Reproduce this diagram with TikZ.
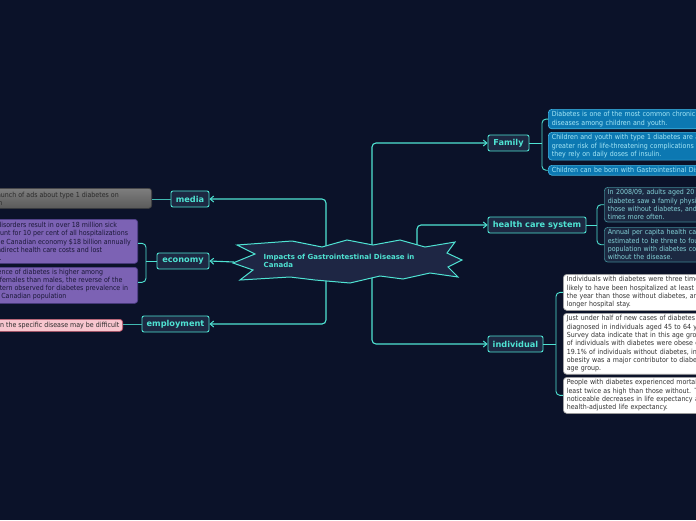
\documentclass[tikz,border=0pt]{standalone}
\usepackage{fontspec}
\setmainfont{DejaVu Sans}
\newfontfamily\condfont{DejaVu Sans Condensed}
\usetikzlibrary{arrows.meta}
\definecolor{bg}{HTML}{0B1229}
\definecolor{cy}{HTML}{4FE3D3}
\definecolor{topicfill}{HTML}{1D2842}
\definecolor{starfill}{HTML}{1E2644}
\definecolor{famfill}{HTML}{0C78B2}
\definecolor{famdraw}{HTML}{3FB2E0}
\definecolor{famtext}{HTML}{A6E8F7}
\definecolor{hcfill}{HTML}{1C2942}
\definecolor{hcdraw}{HTML}{3E8590}
\definecolor{hctext}{HTML}{84D2D8}
\definecolor{inddraw}{HTML}{9A9A9A}
\definecolor{indtext}{HTML}{333333}
\definecolor{ecofill}{HTML}{7C62B4}
\definecolor{ecodraw}{HTML}{52408C}
\definecolor{ecotext}{HTML}{1B1838}
\definecolor{pinkfill}{HTML}{F8C6CF}
\definecolor{pinkdraw}{HTML}{C4566A}
\definecolor{darktext}{HTML}{2A2A2A}
\definecolor{graytop}{HTML}{7E7E7E}
\definecolor{graybot}{HTML}{5A5A5A}
\tikzset{
 topic/.style={draw=cy, fill=topicfill, rounded corners=2pt, line width=0.9pt, text=cy,
   font=\fontsize{8.2}{9}\selectfont\bfseries, inner sep=0pt, minimum height=16pt},
 conn/.style={draw=cy, line width=1.1pt, rounded corners=4pt},
 subconn/.style={draw=cy, line width=0.9pt, rounded corners=4pt},
 arrowto/.style={-{Straight Barb[length=3.5pt,width=6pt,line width=1pt]}},
 txtbox/.style={anchor=north west, align=left, inner xsep=3.5pt, inner ysep=2.2pt,
   rounded corners=3.5pt, line width=0.7pt, font=\condfont\fontsize{7}{8.3}\selectfont, text width=250pt},
 fambox/.style={txtbox, fill=famfill, draw=famdraw, text=famtext},
 hcbox/.style={txtbox, fill=hcfill, draw=hcdraw, text=hctext},
 indbox/.style={txtbox, fill=white, draw=inddraw, text=indtext},
 leftbox/.style={anchor=north east, inner sep=0pt, rounded corners=3pt, line width=0.7pt, minimum width=220pt},
 ecobox/.style={leftbox, fill=ecofill, draw=ecodraw},
 graybox/.style={leftbox, top color=graytop, bottom color=graybot, draw=graybot!70!black},
 pinkbox/.style={leftbox, fill=pinkfill, draw=pinkdraw},
 lline/.style={anchor=base east, inner sep=0pt, font=\condfont\fontsize{7}{8.3}\selectfont},
}
\begin{document}
\begin{tikzpicture}[x=1pt,y=-1pt]
\fill[bg] (0,0) rectangle (696,520);
\useasboundingbox (0,0) rectangle (696,520);
\clip (0,0) rectangle (696,520);

% topic nodes
\node[topic, minimum width=41pt] (family) at (508.5,143) {Family};
\node[topic, minimum width=98pt] (health) at (537,225) {health care system};
\node[topic, minimum width=55pt] (individual) at (515.5,344) {individual};
\node[topic, minimum width=38pt] (media) at (190,199) {media};
\node[topic, minimum width=52pt] (economy) at (183,261) {economy};
\node[topic, minimum width=67pt] (employment) at (175.5,324) {employment};

% trunk anchors (hidden behind the central shape)
\coordinate (lt) at (326,261);
\coordinate (rt) at (372,261);
\coordinate (ht) at (417,261);
\coordinate (et) at (234,262);

\draw[conn, arrowto] (lt) |- (media.east);
\draw[conn, arrowto] (lt) |- (employment.east);
\draw[conn, arrowto] (et) -- (economy.east);
\draw[conn, arrowto] (rt) |- (family.west);
\draw[conn, arrowto] (ht) |- (health.west);
\draw[conn, arrowto] (rt) |- (individual.west);

% central shape
\draw[fill=starfill, draw=cy, line width=1pt, line join=miter]
 (237,245) -- (292,241) -- (322,247) -- (347,240) -- (373,245) -- (400,240) -- (425,247)
 -- (455,242) -- (447,253) -- (462,260) -- (448,267) -- (458,277) -- (430,273) -- (403,279)
 -- (380,276) -- (350,283) -- (315,280) -- (290,277) -- (240,280) -- (253,270) -- (233,263)
 -- (255,254) -- cycle;
\node[anchor=west, align=left, inner sep=0pt, text=cy, font=\fontsize{7}{8}\selectfont\bfseries]
 (centre) at (263.5,260.5) {Impacts of Gastrointestinal Disease in\\Canada};

% Family children
\node[fambox] (fam1) at (548,109) {Diabetes is one of the most common chronic\\diseases among children and youth.};
\node[fambox] (fam2) at (548,132) {Children and youth with type 1 diabetes are at\\greater risk of life-threatening complications as\\they rely on daily doses of insulin.};
\node[fambox] (fam3) at (548,165) {Children can be born with Gastrointestinal Disease.};
\coordinate (famb) at (542,143);
\draw[subconn] (family.east) -- (famb);
\draw[subconn] (fam1.west) -| (famb) |- (fam3.west);

% health care children
\node[hcbox] (hc1) at (604,187) {In 2008/09, adults aged 20 and older with\\diabetes saw a family physician twice as\\those without diabetes, and a specialist three\\times more often.};
\node[hcbox] (hc2) at (604,227) {Annual per capita health care costs were\\estimated to be three to four times higher for the\\population with diabetes compared to those\\without the disease.};
\coordinate (hcb) at (597,225);
\draw[subconn] (health.east) -- (hcb);
\draw[subconn] (hc1.west) -| (hcb) |- (hc2.west);

% individual children
\node[indbox] (ind1) at (563,274) {Individuals with diabetes were three times more\\likely to have been hospitalized at least once in\\the year than those without diabetes, and had a\\longer hospital stay.};
\node[indbox] (ind2) at (563,313) {Just under half of new cases of diabetes were\\diagnosed in individuals aged 45 to 64 years.\\Survey data indicate that in this age group, 36.6\%\\of individuals with diabetes were obese compared to\\19.1\% of individuals without diabetes, indicating that\\obesity was a major contributor to diabetes in this\\age group.};
\node[indbox] (ind3) at (563,377) {People with diabetes experienced mortality rates at\\least twice as high than those without. There were\\noticeable decreases in life expectancy and\\health-adjusted life expectancy.};
\coordinate (indb) at (556,344);
\draw[subconn] (individual.east) -- (indb);
\draw[subconn] (ind1.west) -| (indb) |- (ind3.west);

% media child
\node[graybox, minimum height=20pt] (med1) at (152,188) {};
\draw[subconn, draw=cy!80!bg, line width=0.8pt] (media.west) -- (med1.east |- media.west);
\node[lline, text=darktext] (med1a) at (119,197) {There has been a launch of ads about type 1 diabetes on};
\node[lline, text=darktext] (med1b) at (2.5,205) {television};

% economy children
\node[ecobox, minimum height=44pt] (eco1) at (138,219) {};
\node[ecobox, minimum height=36pt] (eco2) at (138,267) {};
\coordinate (ecob) at (146,261);
\draw[subconn] (economy.west) -- (ecob);
\draw[subconn] ([yshift=-2pt]eco1.east) -| (ecob) |- ([yshift=3pt]eco2.east);
\node[lline, text=ecotext] (eco1a) at (117.3,227.5) {Digestive disorders result in over 18 million sick};
\node[lline, text=ecotext] (eco1b) at (128.3,235.8) {days, account for 10 per cent of all hospitalizations};
\node[lline, text=ecotext] (eco1c) at (131,244.1) {and cost the Canadian economy \$18 billion annually};
\node[lline, text=ecotext] (eco1d) at (102.3,252.4) {in direct and indirect health care costs and lost};
\node[lline, text=ecotext] (eco1e) at (1.5,260.7) {productivity.};
\node[lline, text=ecotext] (eco2a) at (103.3,274.3) {The incidence of diabetes is higher among};
\node[lline, text=ecotext] (eco2b) at (122.7,282.3) {females than males, the reverse of the};
\node[lline, text=ecotext] (eco2c) at (128.3,290.3) {pattern observed for diabetes prevalence in};
\node[lline, text=ecotext] (eco2d) at (66.7,298.6) {the Canadian population};

% employment child
\node[pinkbox, minimum height=12pt] (emp1) at (123,319) {};
\draw[subconn, draw=cy!80!bg, line width=0.8pt] (employment.west) -- (emp1.east |- employment.west);
\node[lline, text=darktext] (emp1a) at (119.5,327.3) {Getting employment based on the specific disease may be difficult};
\end{tikzpicture}
\end{document}
